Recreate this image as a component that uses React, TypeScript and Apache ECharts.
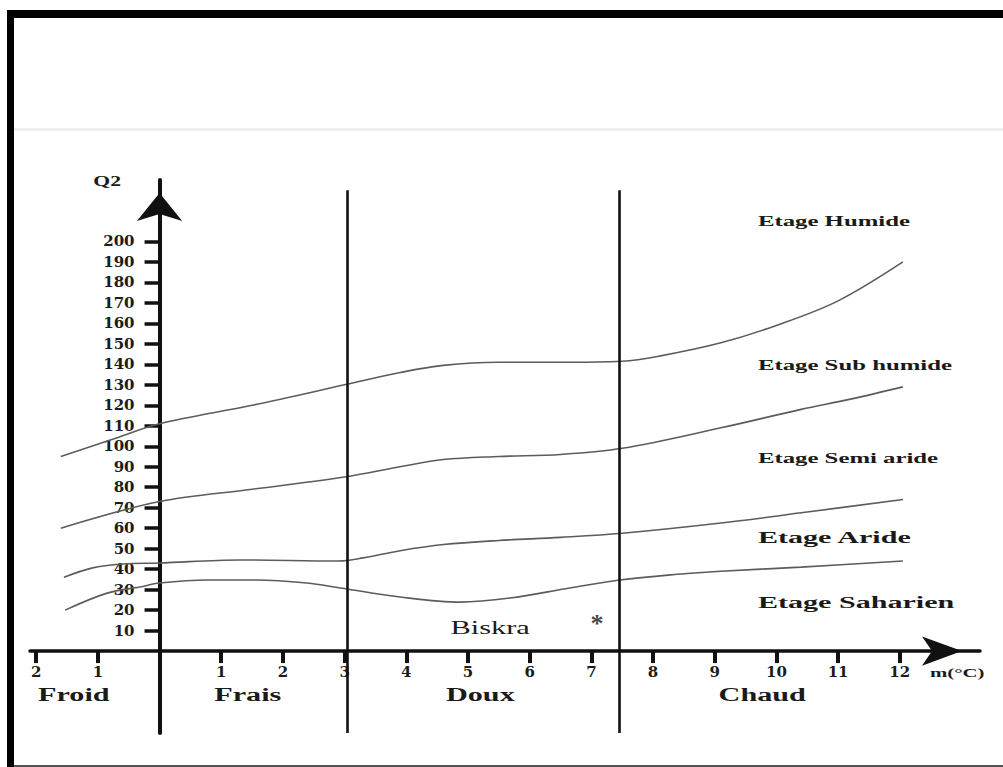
import React, { useEffect, useRef } from "react";
import * as echarts from "echarts";

// Axis ticks
const yTicks = [10, 20, 30, 40, 50, 60, 70, 80, 90, 100, 110, 120, 130, 140, 150, 160, 170, 180, 190, 200];
const xTicks = [-2, -1, 1, 2, 3, 4, 5, 6, 7, 8, 9, 10, 11, 12];

// Thermal zone boundaries (m, °C)
const zoneBoundaries = [3.05, 7.46];

// Limits between bioclimatic stages: [m (°C), Q2]
const humideLimit = [
  [-1.6, 95], [-0.8, 103], [0, 111], [1.5, 120], [3, 130], [3.9, 136], [4.6, 139.5],
  [5.5, 141], [6.5, 141], [7.5, 141.5], [8.1, 144], [9.1, 150.5], [10, 159], [11, 171], [12.05, 190],
];
const subHumideLimit = [
  [-1.6, 60], [0, 73], [1.5, 79], [3, 85], [3.9, 90], [4.6, 93.5], [5.5, 95], [6.5, 96],
  [7.5, 99], [9.1, 109], [10.4, 118], [11.2, 123], [12.05, 129],
];
const semiAridLimit = [
  [-1.55, 36], [-1.1, 40.5], [-0.6, 42.5], [0, 43], [1.3, 44.5], [2.9, 44], [3.3, 45.5],
  [3.9, 49], [4.6, 52], [5.5, 54], [6.5, 55.5], [7.5, 57.5], [9.1, 62.5], [10.4, 67.5], [12.05, 74],
];
const aridLimit = [
  [-1.53, 20], [-0.85, 28.3], [-0.32, 31.3], [0, 33.2], [0.77, 34.7], [1.58, 34.7], [2.39, 33.2],
  [2.93, 30.8], [3.9, 26.4], [4.87, 23.9], [5.68, 25.9], [6.65, 30.8], [7.46, 34.7], [8.4, 37.5],
  [9.1, 39], [10.4, 41], [12.05, 44],
];

// Station
const biskra = [[7.09, 16]];

const zoneNames = ["Froid", "Frais", "Doux", "Chaud"];
const stageNames = ["Etage Humide", "Etage Sub humide", "Etage Semi aride", "Etage Aride", "Etage Saharien"];

// Annotation anchors (data coordinates) and text styling
const zoneAnchors = [[-1.39, -21.5], [1.43, -21.5], [5.2, -21.5], [9.77, -21.5]];
const stageAnchors = [[9.7, 210], [9.7, 139.6], [9.7, 94.2], [9.7, 55.7], [9.7, 23.9]];
const stageSizes = [14, 14, 14, 17, 17];

const X_MIN = -2.1;
const X_MAX = 13.3;
const Y_MIN = -40;
const Y_MAX = 230;

export default function App() {
  const ref = useRef<HTMLDivElement>(null);

  useEffect(() => {
    document.body.style.margin = "0";
    const chart = echarts.init(ref.current as HTMLDivElement, null, { renderer: "svg" });

    const gridLeft = 30;
    const gridRight = 23;
    const gridTop = 180;
    const gridBottom = 34;
    const gridW = 1003 - gridLeft - gridRight;
    const gridH = 767 - gridTop - gridBottom;
    // place the axes where the other axis is zero (labels follow the axis line)
    const yAxisOffset = -((0 - X_MIN) / (X_MAX - X_MIN)) * gridW;
    const xAxisOffset = -((0 - Y_MIN) / (Y_MAX - Y_MIN)) * gridH;

    const curve = (name: string, data: number[][]) => ({
      type: "line",
      name,
      data,
      smooth: 0.35,
      showSymbol: false,
      symbol: "none",
      silent: true,
      lineStyle: { color: "#5c5c5c", width: 1.6 },
      z: 3,
    });

    const labelFont = { fontFamily: "DejaVu Serif", fontWeight: "bold", fontSize: 15, color: "#1c1c1c" };

    chart.setOption({
      animation: false,
      backgroundColor: "#ffffff",
      grid: {
        left: gridLeft,
        right: gridRight,
        top: gridTop,
        bottom: gridBottom,
        containLabel: false,
        outerBoundsMode: "none",
      },
      xAxis: {
        type: "value",
        min: X_MIN,
        max: X_MAX,
        position: "bottom",
        offset: xAxisOffset,
        splitLine: { show: false },
        axisLine: {
          onZero: false,
          lineStyle: { color: "#111", width: 3.5 },
          symbol: ["none", "arrow"],
          symbolSize: [22, 40],
          symbolOffset: [0, -18],
        },
        axisTick: { show: true, customValues: xTicks, length: 12, lineStyle: { color: "#111", width: 4 } },
        axisLabel: {
          customValues: xTicks,
          formatter: (v: number) => String(Math.abs(v)),
          margin: 13,
          ...labelFont,
        },
      },
      yAxis: {
        type: "value",
        min: Y_MIN,
        max: Y_MAX,
        position: "left",
        offset: yAxisOffset,
        splitLine: { show: false },
        axisLine: {
          onZero: false,
          lineStyle: { color: "#111", width: 4 },
          symbol: ["none", "arrow"],
          symbolSize: [34, 28],
          symbolOffset: [0, -13],
        },
        axisTick: { show: true, customValues: yTicks, length: 15, lineStyle: { color: "#111", width: 3.5 } },
        axisLabel: { customValues: yTicks, margin: 25, ...labelFont },
      },
      series: [
        {
          ...curve("Humide / Sub humide", humideLimit),
          markLine: {
            silent: true,
            symbol: ["none", "none"],
            label: { show: false },
            lineStyle: { color: "#111", width: 2.6, type: "solid" },
            data: zoneBoundaries.map((b) => [{ coord: [b, 225] }, { coord: [b, Y_MIN] }]),
          },
        },
        curve("Sub humide / Semi aride", subHumideLimit),
        curve("Semi aride / Aride", semiAridLimit),
        curve("Aride / Saharien", aridLimit),
        {
          type: "scatter",
          name: "Biskra",
          data: biskra,
          symbolSize: 1,
          itemStyle: { color: "rgba(0,0,0,0)" },
          silent: true,
          label: {
            show: true,
            position: "inside",
            formatter: "*",
            fontFamily: "Liberation Serif",
            fontWeight: "bold",
            fontSize: 26,
            color: "#111",
            offset: [0, 5],
          },
        },
      ],
    });

    const px = (p: number[]) => chart.convertToPixel({ gridIndex: 0 }, p) as number[];

    const textEl = (text: string, p: number[], opts: any) => {
      const [x, y] = px(p);
      return {
        type: "text",
        x,
        y,
        scaleX: opts.scaleX,
        silent: true,
        z: 10,
        style: {
          text,
          fill: "#1a1a1a",
          font: `${opts.weight || "bold"} ${opts.size}px "Liberation Serif"`,
          textAlign: opts.align || "center",
          textVerticalAlign: "middle",
        },
      };
    };

    const graphics: any[] = [
      { type: "rect", silent: true, shape: { x: 14, y: 128, width: 989, height: 3 }, style: { fill: "#efefef" } },
      { type: "rect", silent: true, shape: { x: 7, y: 10, width: 996, height: 8 }, style: { fill: "#000" } },
      { type: "rect", silent: true, shape: { x: 7, y: 10, width: 7, height: 757 }, style: { fill: "#000" } },
      { type: "rect", silent: true, shape: { x: 14, y: 765, width: 989, height: 2 }, style: { fill: "#555" } },
      textEl("Q2", [-0.85, 229.5], { size: 14, scaleX: 1.55 }),
      textEl("m(°C)", [12.93, -10.7], { size: 13, scaleX: 1.6 }),
      textEl("Biskra", [5.36, 11.7], { size: 19, scaleX: 1.6, weight: "normal" }),
      ...zoneNames.map((n, i) => textEl(n, zoneAnchors[i], { size: 18, scaleX: 1.68 })),
      ...stageNames.map((n, i) =>
        textEl(n, stageAnchors[i], { size: stageSizes[i], scaleX: 1.77, align: "left" })
      ),
    ];

    chart.setOption({ graphic: graphics });

    return () => chart.dispose();
  }, []);

  return <div ref={ref} style={{ width: 1003, height: 767 }} />;
}
